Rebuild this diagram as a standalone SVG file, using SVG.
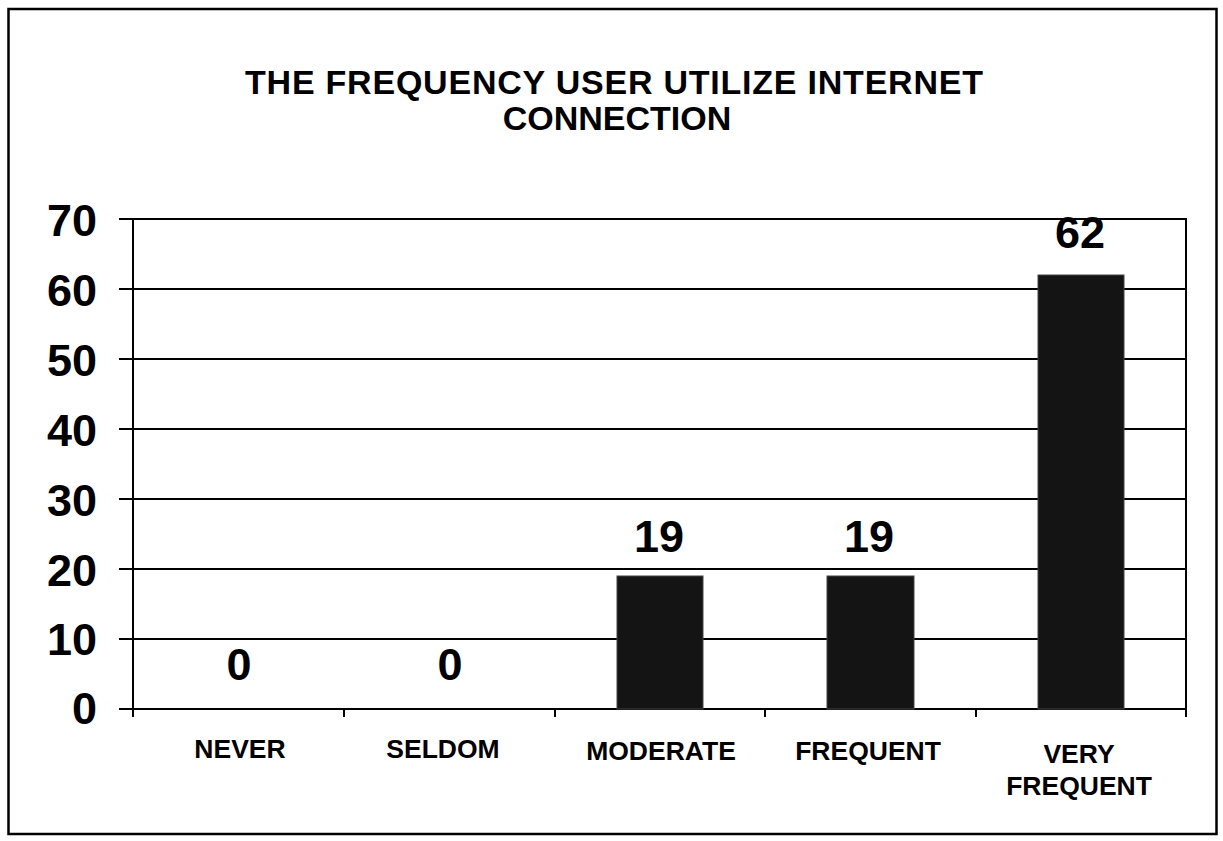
<svg xmlns="http://www.w3.org/2000/svg" width="1223" height="841" viewBox="0 0 1223 841">
<style>
text{font-family:"Liberation Sans",Arial,sans-serif;font-weight:bold;fill:#000}
.title{font-size:34px;text-anchor:middle}
.ylab{font-size:45px;text-anchor:end}
.val{font-size:45px;text-anchor:middle}
.cat{font-size:26.5px;text-anchor:middle}
.grid{stroke:#000;stroke-width:2;fill:none}
.bar{fill:#141414;stroke:#444;stroke-width:1}
</style>
<rect x="0" y="0" width="1223" height="841" fill="#fff"/>
<rect id="frame" x="8.5" y="9" width="1208" height="825" fill="none" stroke="#000" stroke-width="2.5"/>
<g id="title">
<text class="title" x="614" y="94" textLength="738">THE FREQUENCY USER UTILIZE INTERNET</text>
<text class="title" x="617" y="130">CONNECTION</text>
</g>
<g id="grid" class="grid">
<line x1="119" y1="219" x2="1187" y2="219"/>
<line x1="119" y1="289" x2="1187" y2="289"/>
<line x1="119" y1="359" x2="1187" y2="359"/>
<line x1="119" y1="429" x2="1187" y2="429"/>
<line x1="119" y1="499" x2="1187" y2="499"/>
<line x1="119" y1="569" x2="1187" y2="569"/>
<line x1="119" y1="639" x2="1187" y2="639"/>
<line x1="119" y1="709" x2="1187" y2="709"/>
<line x1="133" y1="219" x2="133" y2="717"/>
<line x1="1186" y1="219" x2="1186" y2="717"/>
<line x1="344" y1="709" x2="344" y2="717"/>
<line x1="555" y1="709" x2="555" y2="717"/>
<line x1="765" y1="709" x2="765" y2="717"/>
<line x1="976" y1="709" x2="976" y2="717"/>
</g>
<g id="yaxis-labels">
<text class="ylab" x="97" y="236">70</text>
<text class="ylab" x="97" y="306">60</text>
<text class="ylab" x="97" y="376">50</text>
<text class="ylab" x="97" y="446">40</text>
<text class="ylab" x="97" y="516">30</text>
<text class="ylab" x="97" y="586">20</text>
<text class="ylab" x="97" y="655">10</text>
<text class="ylab" x="97" y="724">0</text>
</g>
<g id="never">
<text class="val" x="239" y="680">0</text>
<text class="cat" x="240" y="758">NEVER</text>
</g>
<g id="seldom">
<text class="val" x="450" y="680">0</text>
<text class="cat" x="443" y="758">SELDOM</text>
</g>
<g id="moderate">
<rect class="bar" x="617" y="576" width="86" height="133"/>
<text class="val" x="659" y="552">19</text>
<text class="cat" x="661" y="760">MODERATE</text>
</g>
<g id="frequent">
<rect class="bar" x="827" y="576" width="87" height="133"/>
<text class="val" x="869" y="552">19</text>
<text class="cat" x="868" y="760">FREQUENT</text>
</g>
<g id="very-frequent">
<rect class="bar" x="1038" y="275" width="86" height="434"/>
<text class="val" x="1080" y="248">62</text>
<text class="cat" x="1079" y="763">VERY</text>
<text class="cat" x="1079" y="795">FREQUENT</text>
</g>
</svg>
